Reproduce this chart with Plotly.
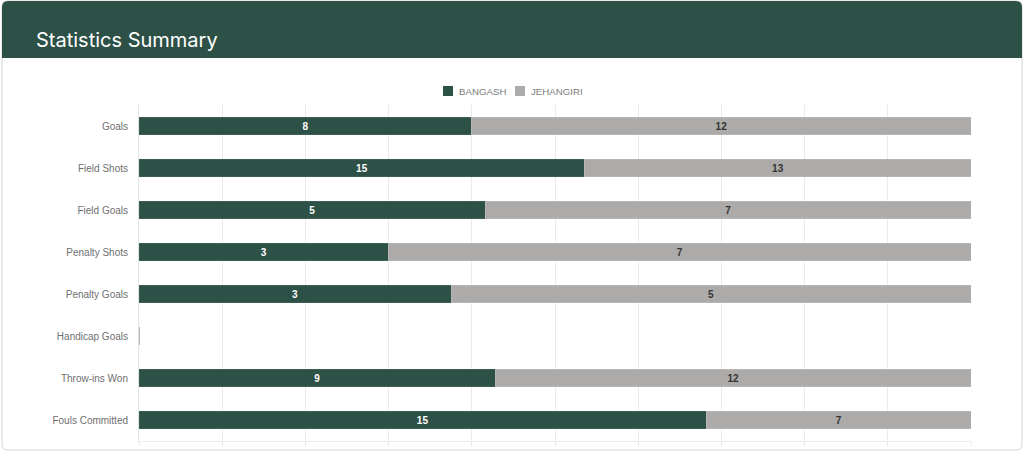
import plotly.graph_objects as go

categories = ["Goals", "Field Shots", "Field Goals", "Penalty Shots",
              "Penalty Goals", "Handicap Goals", "Throw-ins Won", "Fouls Committed"]
bangash = [8, 15, 5, 3, 3, 0, 9, 15]
jehangiri = [12, 13, 7, 7, 5, 0, 12, 7]
teams = ["BANGASH", "JEHANGIRI"]

GREEN = "#2e5147"
GREY = "#adaba9"

W, H = 1024, 452
# plot area in pixels
L, R, T, B = 139, 971, 105, 441


def px(x):
    return (x - L) / (R - L)


def py(y):
    return (B - y) / (B - T)


def rounded_path(x0, y0, x1, y1, r, top_only=False):
    # path in paper coords built from pixel corners
    pts = []
    pts.append(f"M {px(x0 + r)} {py(y0)}")
    pts.append(f"L {px(x1 - r)} {py(y0)}")
    pts.append(f"Q {px(x1)} {py(y0)} {px(x1)} {py(y0 + r)}")
    if top_only:
        pts.append(f"L {px(x1)} {py(y1)}")
        pts.append(f"L {px(x0)} {py(y1)}")
    else:
        pts.append(f"L {px(x1)} {py(y1 - r)}")
        pts.append(f"Q {px(x1)} {py(y1)} {px(x1 - r)} {py(y1)}")
        pts.append(f"L {px(x0 + r)} {py(y1)}")
        pts.append(f"Q {px(x0)} {py(y1)} {px(x0)} {py(y1 - r)}")
    pts.append(f"L {px(x0)} {py(y0 + r)}")
    pts.append(f"Q {px(x0)} {py(y0)} {px(x0 + r)} {py(y0)}")
    return " ".join(pts) + " Z"


totals = [a + b for a, b in zip(bangash, jehangiri)]
b_pct = [a / t * 100 if t else 0 for a, t in zip(bangash, totals)]
j_pct = [b / t * 100 if t else 0 for b, t in zip(jehangiri, totals)]

fig = go.Figure()
fig.add_trace(go.Bar(
    y=categories, x=b_pct, name=teams[0], orientation="h",
    marker=dict(color=GREEN, line=dict(color="#3b5f55", width=1)),
    text=[str(v) if v else "" for v in bangash],
    textposition="inside", insidetextanchor="middle", textangle=0,
    constraintext="none",
    textfont=dict(color="white", size=10, family="Liberation Sans", weight="bold"),
    width=0.42,
))
fig.add_trace(go.Bar(
    y=categories, x=j_pct, name=teams[1], orientation="h",
    marker=dict(color=GREY, line=dict(color="#b8b6b4", width=1)),
    text=[str(v) if v else "" for v in jehangiri],
    textposition="inside", insidetextanchor="middle", textangle=0,
    constraintext="none",
    textfont=dict(color="#333333", size=10, family="Liberation Sans", weight="bold"),
    width=0.42,
))

shapes = [
    dict(type="path", xref="paper", yref="paper", layer="below",
         path=rounded_path(2, 1, 1022, 450, 6),
         fillcolor="white", line=dict(color="#d4d4d4", width=1)),
    dict(type="path", xref="paper", yref="paper", layer="below",
         path=rounded_path(2, 1, 1022, 58, 6, top_only=True),
         fillcolor=GREEN, line=dict(width=0)),
]

annotations = [dict(text="Statistics Summary", xref="paper", yref="paper",
                    x=px(34), y=py(40), xanchor="left", yanchor="middle",
                    showarrow=False,
                    font=dict(family="Inter", size=20, color="white"))]

# hand-made legend, chart.js style (small square + label)
for name, col, bx in zip(teams, [GREEN, GREY], [443, 515]):
    shapes.append(dict(type="rect", xref="paper", yref="paper",
                       x0=px(bx), x1=px(bx + 10), y0=py(96), y1=py(86),
                       fillcolor=col, line=dict(width=0)))
    annotations.append(dict(text=name, xref="paper", yref="paper",
                            x=px(bx + 14), y=py(91.5), xanchor="left",
                            yanchor="middle", showarrow=False,
                            font=dict(size=9.7, color="#7a7a7a")))

fig.update_layout(
    width=W, height=H,
    margin=dict(l=L, r=W - R, t=T, b=H - B, autoexpand=False),
    paper_bgcolor="white", plot_bgcolor="rgba(0,0,0,0)",
    barmode="stack", bargap=0.6,
    font=dict(family="Liberation Sans", size=10, color="#666666"),
    shapes=shapes,
    annotations=annotations,
    showlegend=False,
    xaxis=dict(range=[0, 100], dtick=10, showticklabels=False,
               showgrid=True, gridcolor="#ebebeb", gridwidth=1,
               ticks="outside", ticklen=4, tickcolor="#ebebeb",
               showline=True, linecolor="#ebebeb", zeroline=False,
               automargin=False, fixedrange=True),
    yaxis=dict(autorange="reversed", showgrid=False, showline=True,
               linecolor="#e3e3e3", ticks="", ticklabelstandoff=8,
               tickfont=dict(size=10, color="#6f6f6f"),
               automargin=False, fixedrange=True),
)

# pin the graph div to the top-left corner of the page
pin = ("var d=document.getElementById('{plot_id}');"
       "document.body.style.margin='0';"
       "d.style.position='absolute';d.style.top='0';d.style.left='0';")

fig.write_html("out.html", post_script=pin, config={"displayModeBar": False})
